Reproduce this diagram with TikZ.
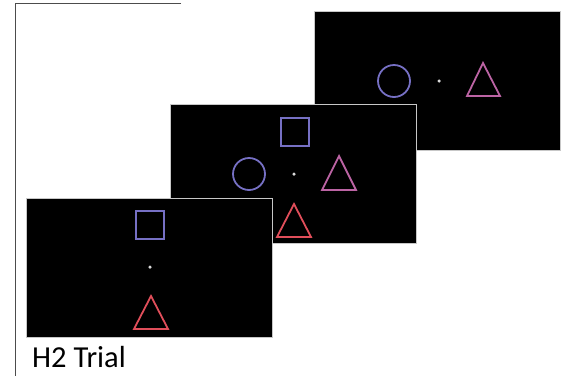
\documentclass[tikz,border=0pt]{standalone}
\usepackage{fontspec}
\setmainfont{Carlito}
\usetikzlibrary{positioning}
\definecolor{shpblue}{HTML}{7670C4}
\definecolor{shppink}{HTML}{BC64A4}
\definecolor{shpred}{HTML}{E04E5A}
\begin{document}
\begin{tikzpicture}[x=1pt,y=-1pt,
    screen/.style={fill=black,draw=black!22,line width=1.1pt,minimum width=246pt,
      minimum height=139pt,inner sep=0pt,anchor=north west},
    fix/.style={circle,fill=black!15,inner sep=0pt,minimum size=3.5pt},
    ring/.style={circle,draw=shpblue,line width=1.8pt,minimum size=32pt,inner sep=0pt},
    sqr/.style={draw=shpblue,line width=1.8pt,minimum size=28pt,inner sep=0pt},
    tri/.style={line width=1.8pt,line join=miter}]
 \useasboundingbox (0,0) rectangle (564,376);
 \draw[black!70,line width=1pt] (181,3) -| (15,376);
 % third screen
 \node[screen] (S3) at (314,11) {};
 \node[ring] (S3c) at (394,81) {};
 \node[fix] (S3f) at (439,81) {};
 \draw[tri,draw=shppink] (483,63) -- (500,96) -- (467,96) -- cycle;
 % second screen
 \node[screen] (S2) at (170,104) {};
 \node[sqr] (S2s) at (295,132) {};
 \node[ring] (S2c) at (249,174) {};
 \node[fix] (S2f) at (294,174) {};
 \draw[tri,draw=shppink] (339,156) -- (356,190) -- (322,190) -- cycle;
 \draw[tri,draw=shpred] (294,204) -- (311,237) -- (277,237) -- cycle;
 % first screen
 \node[screen] (S1) at (26,198) {};
 \node[sqr] (S1s) at (150,225) {};
 \node[fix] (S1f) at (150,267) {};
 \draw[tri,draw=shpred] (151,296) -- (168,329) -- (134,329) -- cycle;
 \node[anchor=base west,inner sep=0pt,font=\fontsize{30.5}{33}\selectfont] (lbl)
  at (32,367) {H2 Trial};
\end{tikzpicture}
\end{document}
